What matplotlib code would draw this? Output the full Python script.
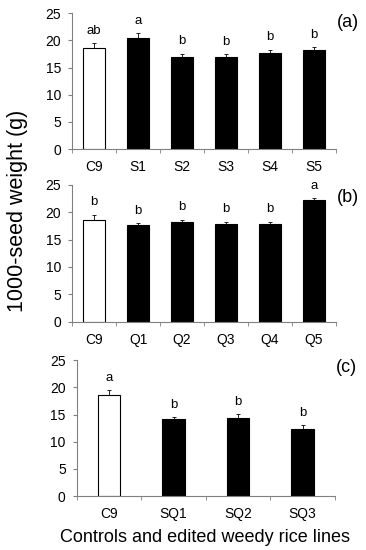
import numpy as np
import matplotlib.pyplot as plt

plt.rcParams['font.family'] = ['Liberation Sans', 'DejaVu Sans']

# Data
cats_a = ['C9', 'S1', 'S2', 'S3', 'S4', 'S5']
vals_a = [18.6, 20.5, 17.0, 17.0, 17.6, 18.2]
err_a = [0.9, 0.8, 0.5, 0.4, 0.7, 0.5]
sig_a = ['ab', 'a', 'b', 'b', 'b', 'b']

cats_b = ['C9', 'Q1', 'Q2', 'Q3', 'Q4', 'Q5']
vals_b = [18.6, 17.7, 18.3, 17.8, 17.8, 22.3]
err_b = [0.9, 0.3, 0.3, 0.5, 0.5, 0.2]
sig_b = ['b', 'b', 'b', 'b', 'b', 'a']

cats_c = ['C9', 'SQ1', 'SQ2', 'SQ3']
vals_c = [18.6, 14.1, 14.3, 12.4]
err_c = [0.9, 0.4, 0.8, 0.6]
sig_c = ['a', 'b', 'b', 'b']

fig = plt.figure(figsize=(3.66, 5.5), dpi=100)
axes_pos = [[0.197, 0.729, 0.721, 0.247],
            [0.197, 0.415, 0.721, 0.249],
            [0.210, 0.098, 0.705, 0.247]]
panels = [(cats_a, vals_a, err_a, sig_a, '(a)', 0.5, 0.93),
          (cats_b, vals_b, err_b, sig_b, '(b)', 0.5, 0.91),
          (cats_c, vals_c, err_c, sig_c, '(c)', 0.35, 0.95)]

for pos, (cats, vals, errs, sigs, tag, w, tag_y) in zip(axes_pos, panels):
    ax = fig.add_axes(pos)
    x = np.arange(len(cats))
    colors = ['white'] + ['black'] * (len(cats) - 1)
    ax.bar(x, vals, width=w, color=colors, edgecolor='black', linewidth=0.8, zorder=2)
    ax.errorbar(x, vals, yerr=[np.zeros(len(errs)), errs], fmt='none',
                ecolor='black', elinewidth=0.6, capsize=1.5, capthick=0.6, zorder=3)
    for xi, v, e, s in zip(x, vals, errs, sigs):
        ax.text(xi, v + e + 1.2, s, ha='center', va='bottom', fontsize=9.5)
    ax.set_xlim(-0.5, len(cats) - 0.5)
    ax.set_ylim(0, 25)
    ax.set_yticks([0, 5, 10, 15, 20, 25])
    ax.set_xticks(x)
    ax.set_xticklabels(cats)
    ax.set_xticks(np.arange(-0.5, len(cats), 1.0), minor=True)
    ax.tick_params(axis='x', which='major', length=0, labelsize=10, pad=8)
    ax.tick_params(axis='x', which='minor', length=3, color='#808080', direction='out')
    ax.tick_params(axis='y', length=3, color='#808080', labelsize=10, pad=5)
    for side in ['top', 'right']:
        ax.spines[side].set_visible(False)
    for side in ['left', 'bottom']:
        ax.spines[side].set_color('#808080')
        ax.spines[side].set_linewidth(0.8)
    ax.text(1.045, tag_y, tag, transform=ax.transAxes, ha='center', va='center', fontsize=13)

fig.text(0.047, 0.616, '1000-seed weight (g)', rotation=90, ha='center', va='center', fontsize=15.5)
fig.text(0.56, 0.022, 'Controls and edited weedy rice lines', ha='center', va='center', fontsize=13)

fig.savefig('out.png', dpi=100)
